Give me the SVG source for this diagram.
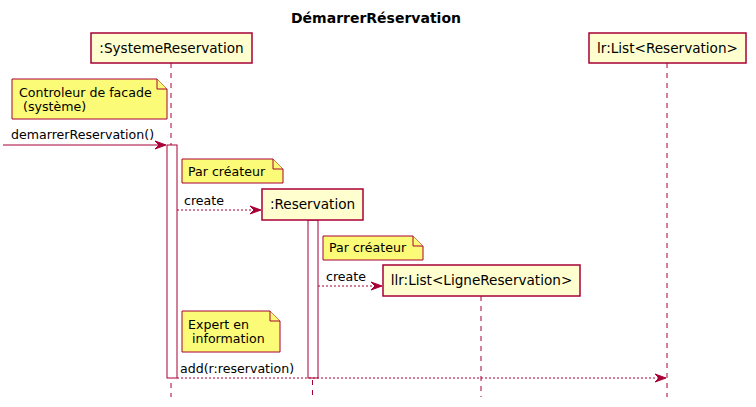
<svg xmlns="http://www.w3.org/2000/svg" width="756" height="407" viewBox="0 0 756 407">
<defs>
<style>
.title{font-family:"DejaVu Sans",sans-serif;font-size:14px;font-weight:bold;fill:#000}
.part rect{fill:#FEFECE;stroke:#A80036;stroke-width:1.5}
.part text{font-family:"DejaVu Sans",sans-serif;font-size:13.6px;fill:#000;text-anchor:middle}
.life{stroke:#A80036;stroke-width:1;stroke-dasharray:5,5;fill:none}
.act{fill:#FFFFFF;stroke:#A80036;stroke-width:1}
.note path{fill:#FBFB77;stroke:#A80036;stroke-width:1}
.note text,.msg text{font-family:"DejaVu Sans",sans-serif;font-size:12.6px;fill:#000}
.solid{stroke:#A80036;stroke-width:1;fill:none}
.dash{stroke:#A80036;stroke-width:1;stroke-dasharray:2,2;fill:none}
.head{fill:#A80036;stroke:#A80036;stroke-width:1}
</style>
</defs>
<rect width="756" height="407" fill="#FFFFFF"/>
<text class="title" x="376" y="23" text-anchor="middle">DémarrerRéservation</text>

<g id="lifelines">
<line class="life" x1="171" y1="63" x2="171" y2="397"/>
<line class="life" x1="312.5" y1="220" x2="312.5" y2="397"/>
<line class="life" x1="481" y1="296" x2="481" y2="397"/>
<line class="life" x1="667" y1="63" x2="667" y2="397"/>
</g>

<g id="activations">
<rect class="act" x="167" y="145" width="10" height="233"/>
<rect class="act" x="308" y="220" width="10" height="158"/>
</g>

<g id="p_systeme" class="part">
<rect x="91" y="33" width="161" height="30"/>
<text x="171.5" y="53">:SystemeReservation</text>
</g>
<g id="p_lr" class="part">
<rect x="589" y="33" width="157" height="30"/>
<text x="667.5" y="53">lr:List&lt;Reservation&gt;</text>
</g>
<g id="p_reservation" class="part">
<rect x="262" y="189" width="101" height="31"/>
<text x="312.5" y="209">:Reservation</text>
</g>
<g id="p_llr" class="part">
<rect x="383" y="265" width="197" height="31"/>
<text x="481.5" y="285">llr:List&lt;LigneReservation&gt;</text>
</g>

<g id="note_controleur" class="note">
<path d="M12,79 L157,79 L167,89 L167,119 L12,119 Z"/>
<path d="M157,79 L157,89 L167,89"/>
<text x="19" y="97">Controleur de facade</text>
<text x="19" y="111" xml:space="preserve"> (système)</text>
</g>
<g id="note_createur1" class="note">
<path d="M182,159 L273,159 L283,169 L283,183 L182,183 Z"/>
<path d="M273,159 L273,169 L283,169"/>
<text x="188" y="176">Par créateur</text>
</g>
<g id="note_createur2" class="note">
<path d="M323,236 L413,236 L423,246 L423,260 L323,260 Z"/>
<path d="M413,236 L413,246 L423,246"/>
<text x="329" y="252">Par créateur</text>
</g>
<g id="note_expert" class="note">
<path d="M182,311 L270,311 L280,321 L280,352 L182,352 Z"/>
<path d="M270,311 L270,321 L280,321"/>
<text x="188" y="329">Expert en</text>
<text x="188" y="343" xml:space="preserve"> information</text>
</g>

<g id="connectors" class="msg">
<line class="solid" x1="3" y1="145" x2="164" y2="145"/>
<polygon class="head" points="166,145 155,141 159,145 155,149"/>
<text x="11" y="139">demarrerReservation()</text>

<line class="dash" x1="177" y1="210" x2="259" y2="210"/>
<polygon class="head" points="261,210 250,206 254,210 250,214"/>
<text x="184" y="205">create</text>

<line class="dash" x1="318" y1="286" x2="380" y2="286"/>
<polygon class="head" points="382,286 371,282 375,286 371,290"/>
<text x="326" y="281">create</text>

<line class="dash" x1="177" y1="378" x2="664" y2="378"/>
<polygon class="head" points="666,378 655,374 659,378 655,382"/>
<text x="180" y="373">add(r:reservation)</text>
</g>
</svg>
